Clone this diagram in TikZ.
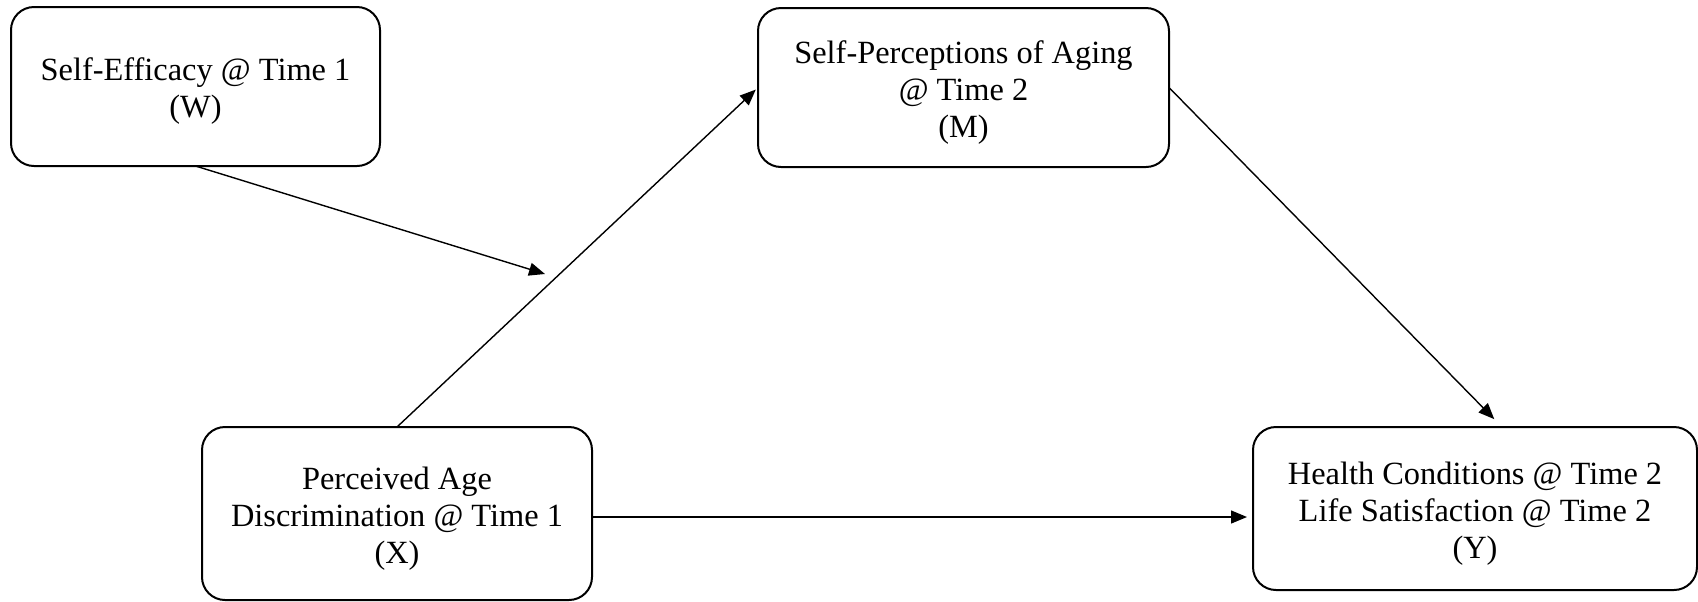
\documentclass[tikz,border=0pt]{standalone}
\usepackage{fontspec}
\setmainfont{Liberation Serif}
\usetikzlibrary{arrows.meta}
\begin{document}
\begin{tikzpicture}[x=0.5pt,y=-0.5pt,
  varbox/.style={draw, line width=1pt, rounded corners=11.5pt, inner sep=0pt, outer sep=0pt},
  vartext/.style={inner sep=0pt, align=center, font=\fontsize{16.2pt}{18.5pt}\selectfont},
  conn/.style={line width=0.7pt, -{Triangle[length=8pt,width=6.5pt]}}]
\useasboundingbox (0,0) rectangle (1698,601);
\node[varbox, minimum width=184.5pt, minimum height=79.5pt] (W) at (195.5,86.5) {};
\node[varbox, minimum width=205.5pt, minimum height=79.5pt] (M) at (963.5,87.5) {};
\node[varbox, minimum width=195pt, minimum height=86.5pt] (X) at (397,513.5) {};
\node[varbox, minimum width=222pt, minimum height=81.5pt] (Y) at (1475,508.5) {};
\node[vartext] (Wt) at ([yshift=-2.5pt]W.center) {Self-Efficacy @ Time 1\\(W)};
\node[vartext] (Mt) at ([yshift=-2.5pt]M.center) {Self-Perceptions of Aging\\@ Time 2\\(M)};
\node[vartext] (Xt) at ([yshift=-2.5pt]X.center) {Perceived Age\\Discrimination @ Time 1\\(X)};
\node[vartext] (Yt) at ([yshift=-2.5pt]Y.center) {Health Conditions @ Time 2\\Life Satisfaction @ Time 2\\(Y)};
\coordinate (mod) at (545,274);
\draw[conn] (W.south) -- (mod);
\draw[conn, shorten >=1.5pt] (X.north) -- (M.west);
\draw[conn, shorten >=5.5pt] (M.east) -- ([xshift=13.5pt]Y.north);
\draw[conn, shorten >=3pt] ([yshift=-1.75pt]X.east) -- ([yshift=-1.75pt]X.east -| Y.west);
\end{tikzpicture}
\end{document}
